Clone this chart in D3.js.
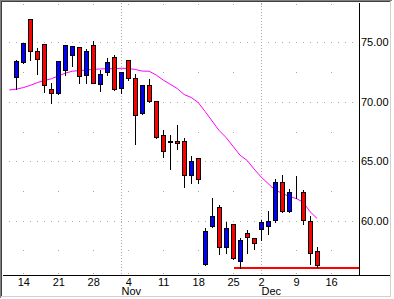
<!DOCTYPE html>
<html>
<head>
<meta charset="utf-8">
<script src="https://cdn.jsdelivr.net/npm/d3@7"></script>
<style>
  html, body { margin: 0; padding: 0; background: #fff; }
  svg { display: block; }
</style>
</head>
<body>
<div class="chart"></div>
<script>
// daily candles, index 0 = Oct 11 (trading days only)
const opens  = [72.07, 73.38, 76.95, 74.26, 74.85, 71.06, 70.72, 72.66, 73.92, 74.60, 72.24, 74.76, 71.48, 72.54, 73.75, 71.14,
                73.50, 71.99, 69.04, 71.40, 70.05, 67.19, 66.70, 66.68, 66.68, 63.82, 65.25, 56.33, 59.53, 61.13, 57.76,
                59.70, 56.58, 58.96, 58.52, 59.28, 59.53, 60.03, 63.23, 60.79, 62.32, 62.39, 60.00, 57.42];
const highs  = [73.59, 75.04, 77.00, 74.65, 74.93, 71.70, 73.53, 74.80, 74.70, 74.62, 74.51, 75.21, 72.74, 73.75, 74.03, 72.58,
                73.52, 72.46, 71.42, 71.99, 70.16, 67.69, 67.30, 68.14, 67.07, 65.51, 65.39, 59.44, 61.97, 61.41, 60.00,
                59.78, 58.60, 59.28, 58.65, 60.12, 60.90, 63.57, 63.91, 62.73, 63.85, 62.64, 60.45, 57.87];
const lows   = [71.06, 73.25, 73.53, 72.35, 70.86, 69.93, 70.70, 72.29, 73.02, 71.62, 71.62, 71.55, 70.94, 72.29, 71.03, 70.77,
                71.84, 66.46, 69.02, 70.03, 67.00, 65.39, 64.33, 66.06, 62.86, 63.20, 63.20, 56.30, 59.50, 57.17, 57.31,
                56.75, 56.04, 57.31, 57.64, 58.35, 58.86, 59.87, 60.77, 60.77, 61.89, 59.70, 56.33, 56.08];
const closes = [73.42, 74.93, 74.26, 73.59, 71.40, 70.72, 73.44, 74.76, 74.68, 72.21, 74.28, 71.57, 72.32, 73.33, 71.11, 72.49,
                71.99, 68.87, 71.40, 70.05, 67.02, 65.84, 66.66, 66.52, 63.82, 65.05, 63.51, 59.13, 60.37, 57.76, 59.36,
                56.89, 58.38, 58.60, 58.10, 59.89, 59.97, 63.23, 60.79, 62.39, 62.30, 60.03, 57.26, 56.25];

// moving average, starts one day before the first candle (index -1)
const maStart = -1;
const maValues = [71.00, 71.07, 71.20, 71.39, 71.62, 71.80, 71.94, 72.18, 72.41, 72.58, 72.63, 72.68, 72.73, 72.77, 72.79,
                  72.79, 72.83, 72.81, 72.73, 72.59, 72.58, 72.26, 71.84, 71.48, 71.13, 70.62, 70.37, 69.95, 69.19, 68.39,
                  67.59, 67.00, 66.25, 65.51, 65.07, 64.35, 63.68, 63.13, 62.58, 62.31, 62.04, 61.87, 61.57, 60.76, 60.19];

// support line
const supportLevel = 56.04;
const supportStart = 31;

const yTicks = [60, 65, 70, 75];
const yMinorTicks = [57.5, 62.5, 67.5, 72.5];
const weekTickIdx = [1, 6, 11, 16, 21, 26, 31, 35, 40, 45];
const weekTickLabels = ["14", "21", "28", "4", "11", "18", "25", "2", "9", "16"];
const monthIdx = [15, 35];
const monthLabels = ["Nov", "Dec"];

const total_width = 394;
const total_height = 299;
const plot = {left: 3, right: 359, top: 3, bottom: 275};
const gridColor = "#a8a8a8";
const font = "'Liberation Sans', Arial, sans-serif";

const svg = d3.select(".chart")
    .append("svg")
    .attr("width", total_width)
    .attr("height", total_height);

const x = d3.scaleLinear().domain([-1.9, 49]).range([plot.left, plot.right]);
const y = d3.scaleLinear().domain([55.43, 78.32]).range([plot.bottom, plot.top]);
const px = i => Math.floor(x(i)) + 0.5;
const py = v => Math.round(y(v)) + 0.5;

// sunken frame
const frame = svg.append("g").attr("shape-rendering", "crispEdges");
frame.append("line").attr("x1", 0).attr("x2", 392).attr("y1", 0.5).attr("y2", 0.5).attr("stroke", "#808080");
frame.append("line").attr("x1", 0.5).attr("x2", 0.5).attr("y1", 0).attr("y2", 298).attr("stroke", "#808080");
frame.append("line").attr("x1", 1).attr("x2", 391).attr("y1", 1.5).attr("y2", 1.5).attr("stroke", "#404040");
frame.append("line").attr("x1", 1.5).attr("x2", 1.5).attr("y1", 1).attr("y2", 297).attr("stroke", "#404040");
frame.append("line").attr("x1", 1).attr("x2", 391).attr("y1", 296.5).attr("y2", 296.5).attr("stroke", "#d4d0c8");
frame.append("line").attr("x1", 390.5).attr("x2", 390.5).attr("y1", 1).attr("y2", 297).attr("stroke", "#d4d0c8");

// grid dots
const grid = svg.append("g").attr("fill", gridColor).attr("shape-rendering", "crispEdges");
const dayIdx = d3.range(-1, 49);
yTicks.forEach(v => {
    grid.selectAll(null)
        .data(dayIdx)
        .enter()
        .append("rect")
        .attr("x", d => Math.floor(x(d)))
        .attr("y", Math.round(y(v)))
        .attr("width", 1)
        .attr("height", 1);
});
weekTickIdx.forEach(i => {
    grid.selectAll(null)
        .data(yMinorTicks.concat([78.2, 55.6]))
        .enter()
        .append("rect")
        .attr("x", Math.floor(x(i)))
        .attr("y", d => Math.round(y(d)))
        .attr("width", 1)
        .attr("height", 1);
});
svg.selectAll("monthline")
    .data(monthIdx)
    .enter()
    .append("line")
    .attr("x1", d => px(d))
    .attr("x2", d => px(d))
    .attr("y1", plot.top)
    .attr("y2", plot.bottom)
    .attr("stroke", gridColor)
    .attr("stroke-dasharray", "1,2")
    .attr("shape-rendering", "crispEdges");

// moving average
const maLine = d3.line()
    .x((d, i) => x(i + maStart))
    .y(d => y(d));
svg.append("path")
    .datum(maValues)
    .attr("d", maLine)
    .attr("fill", "none")
    .attr("stroke", "#ff00ff")
    .attr("stroke-width", 1);

// support line
svg.append("line")
    .attr("x1", px(supportStart))
    .attr("x2", plot.right)
    .attr("y1", y(supportLevel))
    .attr("y2", y(supportLevel))
    .attr("stroke", "#ff0000")
    .attr("stroke-width", 2)
    .attr("shape-rendering", "crispEdges");

// candles
const candles = opens.map((o, i) => ({i: i, o: o, h: highs[i], l: lows[i], c: closes[i]}));
const cg = svg.append("g").attr("shape-rendering", "crispEdges");
cg.selectAll("wick")
    .data(candles)
    .enter()
    .append("line")
    .attr("x1", d => px(d.i))
    .attr("x2", d => px(d.i))
    .attr("y1", d => py(d.h))
    .attr("y2", d => py(d.l))
    .attr("stroke", "#000");
cg.selectAll("body")
    .data(candles)
    .enter()
    .append("rect")
    .attr("x", d => px(d.i) - 2)
    .attr("y", d => py(Math.max(d.o, d.c)))
    .attr("width", 4)
    .attr("height", d => py(Math.min(d.o, d.c)) - py(Math.max(d.o, d.c)))
    .attr("fill", d => d.c >= d.o ? "#0000ff" : "#ff0000")
    .attr("stroke", "#000")
    .attr("stroke-width", 1);

// axes
svg.append("line")
    .attr("x1", plot.right + 0.5).attr("x2", plot.right + 0.5)
    .attr("y1", plot.top).attr("y2", plot.bottom)
    .attr("stroke", "#000").attr("shape-rendering", "crispEdges");
svg.append("line")
    .attr("x1", plot.left).attr("x2", 390)
    .attr("y1", plot.bottom + 0.5).attr("y2", plot.bottom + 0.5)
    .attr("stroke", "#000").attr("shape-rendering", "crispEdges");

const yAxis = svg.append("g")
    .attr("transform", "translate(" + plot.right + ",0)")
    .call(d3.axisRight(y).tickValues(yTicks).tickSize(0).tickPadding(2).tickFormat(d3.format(".2f")));
yAxis.select(".domain").remove();
yAxis.selectAll("text").attr("font-family", font).attr("font-size", "11px").attr("fill", "#000");

const xAxis = svg.append("g")
    .attr("transform", "translate(0," + plot.bottom + ")")
    .call(d3.axisBottom(x).tickValues(weekTickIdx).tickSize(0).tickPadding(3)
        .tickFormat((d, i) => weekTickLabels[i]));
xAxis.select(".domain").remove();
xAxis.selectAll("text").attr("font-family", font).attr("font-size", "11px").attr("fill", "#000");

svg.selectAll("monthlabel")
    .data(monthIdx)
    .enter()
    .append("text")
    .attr("x", d => px(d))
    .attr("y", 295)
    .attr("font-family", font)
    .attr("font-size", "11px")
    .text((d, i) => monthLabels[i]);
</script>
</body>
</html>
